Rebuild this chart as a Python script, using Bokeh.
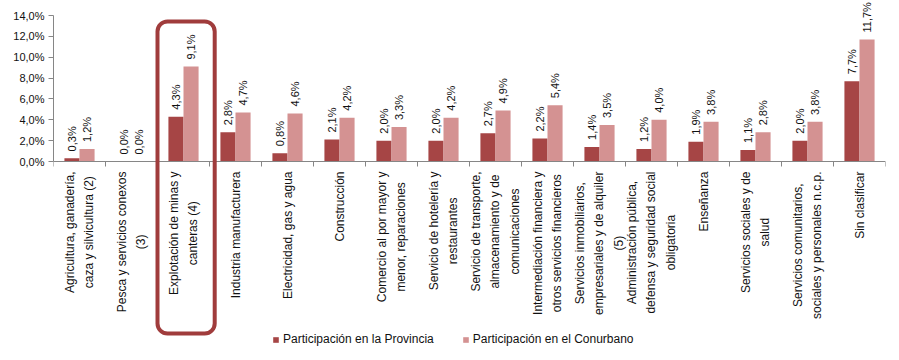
from math import pi
from bokeh.plotting import figure
from bokeh.models import (ColumnDataSource, Range1d, FixedTicker, LabelSet, Label,
                          BoxAnnotation, Legend, LegendItem)
from bokeh.core.properties import value
from bokeh.transform import dodge
from bokeh.embed import file_html
from bokeh.resources import INLINE

categories = [
    "Agricultura, ganadería,\ncaza y silvicultura (2)",
    "Pesca y servicios conexos\n(3)",
    "Explotación de minas y\ncanteras (4)",
    "Industria manufacturera",
    "Electricidad, gas y agua",
    "Construcción",
    "Comercio al por mayor y\nmenor, reparaciones",
    "Servicio de hotelería y\nrestaurantes",
    "Servicio de transporte,\nalmacenamiento y de\ncomunicaciones",
    "Intermediación financiera y\notros servicios financieros",
    "Servicios inmobiliarios,\nempresariales y de alquiler\n(5)",
    "Administración pública,\ndefensa y seguridad social\nobligatoria",
    "Enseñanza",
    "Servicios sociales y de\nsalud",
    "Servicios comunitarios,\nsociales y personales n.c.p.",
    "Sin clasificar",
]
provincia = [0.3, 0.0, 4.3, 2.8, 0.8, 2.1, 2.0, 2.0, 2.7, 2.2, 1.4, 1.2, 1.9, 1.1, 2.0, 7.7]
conurbano = [1.2, 0.0, 9.1, 4.7, 4.6, 4.2, 3.3, 4.2, 4.9, 5.4, 3.5, 4.0, 3.8, 2.8, 3.8, 11.7]
y_ticks = [0, 2, 4, 6, 8, 10, 12, 14]
series_names = ["Participación en la Provincia", "Participación en el Conurbano"]
highlight_category = "Explotación de minas y\ncanteras (4)"

C_PROV = "#A64545"
C_CONU = "#D49292"
C_BOX = "#A03C3C"
C_AXIS = "#868686"
FONT = "Liberation Sans"
TXT = "#111111"

def fmt(v):
    return f"{v:.1f}".replace(".", ",") + "%"

# layout (pixels inside the figure)
FRAME_W, FRAME_H = 832, 346
Y0_PX = 161                       # pixel row of value 0
TOP_PX = 15                       # pixel row of the top tick
PX = (Y0_PX - TOP_PX) / y_ticks[-1]
y_end = Y0_PX / PX
y_start = -(FRAME_H - Y0_PX) / PX

n = len(categories)
centers = [i + 0.5 for i in range(n)]
src = ColumnDataSource(dict(
    x=centers,
    prov=provincia,
    conu=conurbano,
    prov_lbl=[fmt(v) for v in provincia],
    conu_lbl=[fmt(v) for v in conurbano],
))

p = figure(frame_width=FRAME_W, frame_height=FRAME_H,
           output_backend="svg", toolbar_location=None,
           x_range=Range1d(0, n), y_range=Range1d(y_start, y_end),
           min_border_left=53, min_border_right=14, min_border_top=0,
           min_border_bottom=0)
p.outline_line_color = None
p.grid.visible = False

W = 0.29
r1 = p.vbar(x=dodge("x", -W / 2, range=p.x_range), top="prov", width=W, source=src,
            fill_color=C_PROV, line_color=None)
r2 = p.vbar(x=dodge("x", W / 2, range=p.x_range), top="conu", width=W, source=src,
            fill_color=C_CONU, line_color=None)

for col, off in (("prov", -W / 2), ("conu", W / 2)):
    ls = LabelSet(x=dodge("x", off, range=p.x_range), y=col, text=col + "_lbl", source=src,
                  angle=pi / 2, text_align="left", text_baseline="middle",
                  y_offset=7, text_font=value(FONT), text_font_size="11px",
                  text_color=TXT)
    p.add_layout(ls)

# y axis
ya = p.yaxis[0]
ya.bounds = (y_ticks[0], y_ticks[-1])
ya.ticker = FixedTicker(ticks=y_ticks, minor_ticks=[])
ya.major_label_overrides = {t: fmt(t) for t in y_ticks}
ya.axis_line_color = C_AXIS
ya.major_tick_line_color = C_AXIS
ya.major_tick_out = 5
ya.major_tick_in = 0
ya.major_label_text_font = FONT
ya.major_label_text_font_size = "11px"
ya.major_label_text_color = TXT
ya.major_label_standoff = 4

# x axis at value 0: tick marks on category boundaries
xa = p.xaxis[0]
xa.fixed_location = 0
xa.ticker = FixedTicker(ticks=[], minor_ticks=list(range(n + 1)))
xa.axis_line_color = C_AXIS
xa.major_tick_line_color = None
xa.minor_tick_line_color = C_AXIS
xa.minor_tick_out = 5
xa.minor_tick_in = 0
xa.major_label_text_font_size = "0px"

for c, lab in zip(centers, categories):
    p.add_layout(Label(x=c, y=0, text=lab, angle=pi / 2, anchor="center_right",
                       text_align="center", y_offset=-10,
                       text_font=FONT, text_font_size="12px", text_color=TXT,
                       text_line_height=1.4))

# highlight box around a category
hi = categories.index(highlight_category)
box = BoxAnnotation(left=hi, right=hi + 1.1, top=13.43, bottom=-16.5,
                    fill_alpha=0, line_color=C_BOX, line_alpha=1, line_width=4,
                    border_radius=10, level="overlay")
p.add_layout(box)

legend = Legend(items=[LegendItem(label=series_names[0], renderers=[r1]),
                       LegendItem(label=series_names[1], renderers=[r2])],
                orientation="horizontal", location=(219, 0),
                border_line_color=None, background_fill_alpha=0,
                label_text_font=FONT, label_text_font_size="12px",
                label_text_color=TXT, glyph_width=7, glyph_height=7,
                label_standoff=4, spacing=28, padding=0, margin=0)
p.add_layout(legend)

open("out.html", "w").write(file_html(p, INLINE))
